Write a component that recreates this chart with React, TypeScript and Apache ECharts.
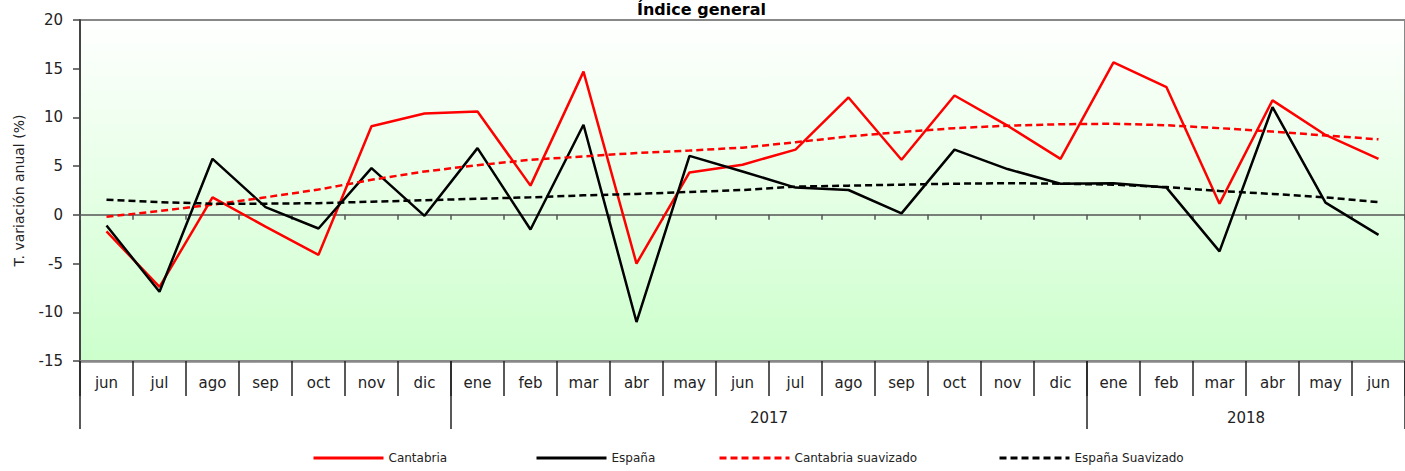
import React, { useEffect, useRef } from "react";
import * as echarts from "echarts";

const months = ["jun","jul","ago","sep","oct","nov","dic","ene","feb","mar","abr","may","jun","jul","ago","sep","oct","nov","dic","ene","feb","mar","abr","may","jun"];
const yearLabels = ["", "2017", "2018"];
const yearStarts = [0, 7, 19];
const yearEnds = [6, 18, 24];

const cantabria = [-1.7,-7.4,1.8,-1.2,-4.1,9.1,10.4,10.6,3.0,14.7,-5.0,4.35,5.15,6.7,12.05,5.65,12.25,9.15,5.75,15.65,13.1,1.15,11.75,8.2,5.75];
const espana = [-1.1,-7.9,5.75,0.8,-1.4,4.8,-0.1,6.85,-1.5,9.25,-11.0,6.05,4.45,2.8,2.55,0.15,6.7,4.7,3.2,3.25,2.8,-3.75,11.05,1.25,-2.05];
const cantabriaSuav = [-0.2,0.4,1.05,1.8,2.6,3.6,4.45,5.1,5.65,6.0,6.35,6.6,6.9,7.45,8.05,8.5,8.9,9.15,9.3,9.35,9.2,8.9,8.55,8.15,7.75];
const espanaSuav = [1.55,1.3,1.15,1.15,1.2,1.35,1.5,1.65,1.8,2.0,2.15,2.35,2.55,2.9,3.0,3.1,3.2,3.25,3.2,3.1,2.85,2.45,2.15,1.8,1.3];

const yMin = -15, yMax = 20, yStep = 5;
const FONT = "DejaVu Sans";

export default function App() {
  const ref = useRef<HTMLDivElement>(null);
  useEffect(() => {
    if (!ref.current) return;
    const chart = echarts.init(ref.current, null, { renderer: "svg" });
    const seriesDefs = [
      { name: "Cantabria", data: cantabria, color: "#ff0000", type: "solid" },
      { name: "España", data: espana, color: "#000000", type: "solid" },
      { name: "Cantabria suavizado", data: cantabriaSuav, color: "#ff0000", type: [7, 4] },
      { name: "España Suavizado", data: espanaSuav, color: "#000000", type: [7, 4] },
    ];
    const legendLefts = [312, 535, 718, 998];
    chart.setOption({
      animation: false,
      textStyle: { fontFamily: FONT },
      title: {
        text: "Índice general",
        left: 637,
        top: 0,
        padding: 0,
        textStyle: { fontFamily: FONT, fontSize: 16, lineHeight: 18, fontWeight: "bold", color: "#000" },
      },
      legend: seriesDefs.map((s, i) => ({
        data: [s.name],
        left: legendLefts[i],
        top: 452,
        padding: 0,
        itemWidth: 70,
        itemHeight: 14,
        itemGap: 6,
        itemStyle: { opacity: 0, color: "rgba(0,0,0,0)", borderColor: "rgba(0,0,0,0)", borderWidth: 0 },
        lineStyle: { width: 3 },
        textStyle: { fontFamily: FONT, fontSize: 12, color: "#222" },
      })),
      grid: {
        left: 80,
        top: 20,
        right: -10,
        bottom: 110,
        show: true,
        borderColor: "#888",
        borderWidth: 2,
        backgroundColor: new echarts.graphic.LinearGradient(0, 0, 0, 1, [
          { offset: 0, color: "#ffffff" },
          { offset: 1, color: "#ccffcc" },
        ]),
      },
      xAxis: [
        {
          type: "category",
          data: months,
          position: "bottom",
          boundaryGap: true,
          axisLine: { onZero: true, lineStyle: { color: "#555", width: 1.5 } },
          axisTick: { show: true, interval: 0, length: 5, lineStyle: { color: "#555", width: 1.5 } },
          axisLabel: { show: false },
          splitLine: { show: false },
        },
        {
          type: "category",
          data: months,
          position: "bottom",
          boundaryGap: true,
          axisLine: { onZero: false, lineStyle: { color: "#888", width: 2.5 } },
          axisTick: { show: true, interval: 0, length: 35, lineStyle: { color: "#222", width: 1.5 } },
          axisLabel: { show: true, interval: 0, fontFamily: FONT, fontSize: 15, color: "#222", margin: 14 },
          splitLine: { show: false },
        },
        {
          type: "category",
          data: months,
          position: "bottom",
          boundaryGap: true,
          axisLine: { show: false, onZero: false },
          axisTick: {
            show: true,
            length: 68,
            interval: (i: number) => yearStarts.indexOf(i) >= 0,
            lineStyle: { color: "#222", width: 1.5 },
          },
          axisLabel: { show: false },
          splitLine: { show: false },
        },
      ],
      yAxis: {
        type: "value",
        min: yMin,
        max: yMax,
        interval: yStep,
        name: "T. variación anual (%)",
        nameLocation: "middle",
        nameGap: 54,
        nameTextStyle: { fontFamily: FONT, fontSize: 14, color: "#222" },
        axisLine: { show: true, lineStyle: { color: "#444", width: 2 } },
        axisTick: { show: true, length: 7, lineStyle: { color: "#444", width: 1.5 } },
        axisLabel: { fontFamily: FONT, fontSize: 15, color: "#222", margin: 17 },
        splitLine: { show: false },
      },
      series: seriesDefs.map((s) => ({
        name: s.name,
        type: "line",
        xAxisIndex: 0,
        data: s.data,
        symbol: "none",
        showSymbol: false,
        color: s.color,
        lineStyle: { color: s.color, width: 2.5, type: s.type },
        z: 3,
      })),
    });
    const px = (i: number) => chart.convertToPixel({ xAxisIndex: 0 }, i) as number;
    const graphics = yearLabels
      .map((label, k) => ({ label, x: (px(yearStarts[k]) + px(yearEnds[k])) / 2 }))
      .filter((g) => g.label)
      .map((g) => ({
        type: "text",
        x: g.x,
        y: 418,
        style: {
          text: g.label,
          fontFamily: FONT,
          fontSize: 15,
          fill: "#222",
          textAlign: "center",
          textVerticalAlign: "middle",
        },
      }));
    chart.setOption({ graphic: graphics });
    return () => chart.dispose();
  }, []);
  return (
    <div
      ref={ref}
      style={{ position: "fixed", left: 0, top: 0, width: 1405, height: 471, background: "#fff" }}
    />
  );
}
